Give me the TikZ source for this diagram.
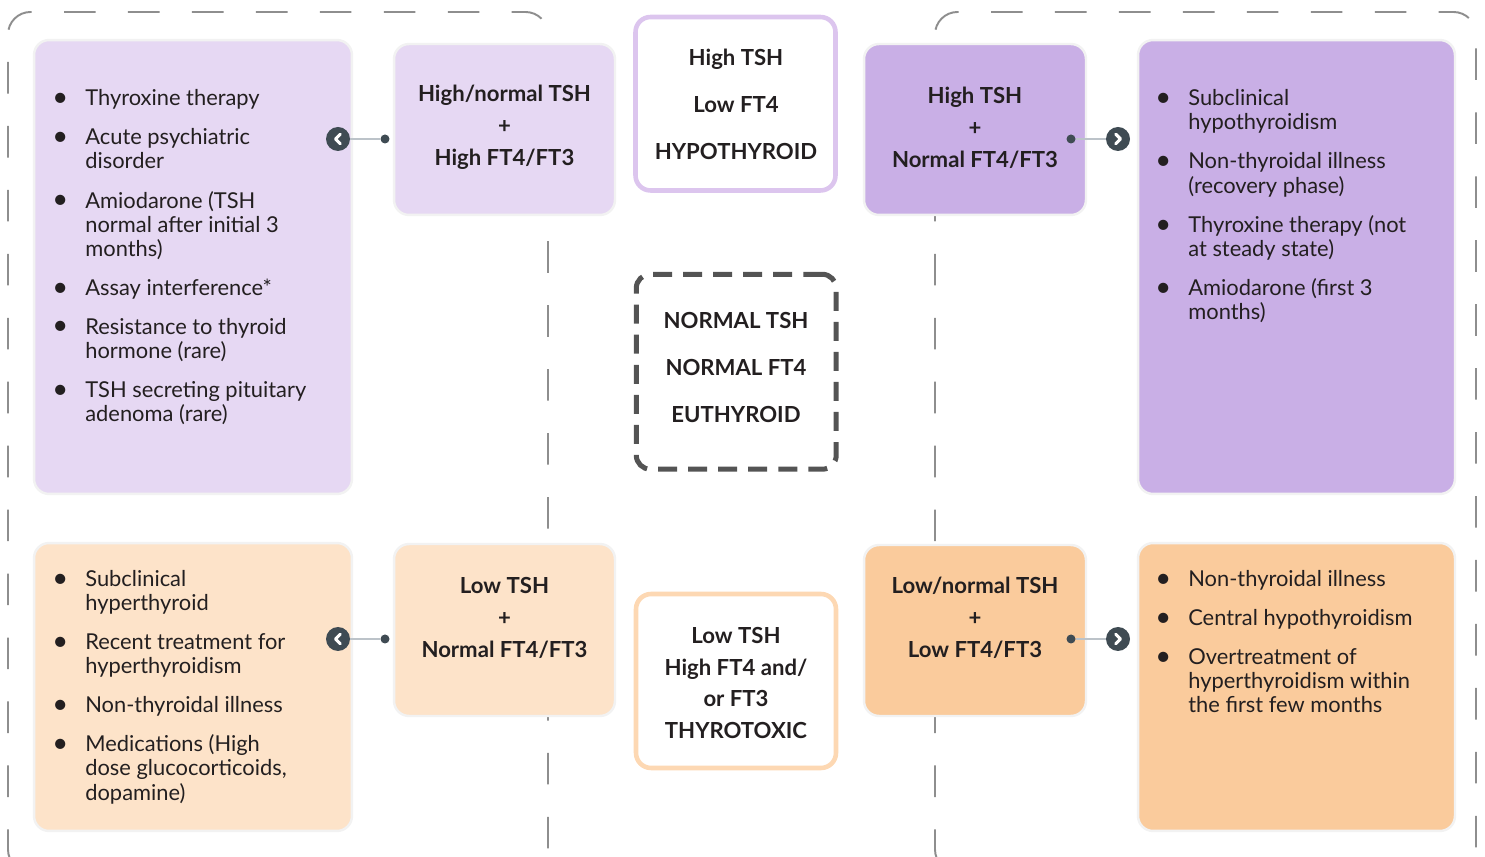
\documentclass[tikz,border=0pt]{standalone}
\usepackage{fontspec}
\setmainfont{Lato}
\usetikzlibrary{positioning}

\definecolor{lilaclight}{HTML}{E6D8F3}
\definecolor{lilacdark}{HTML}{C9AFE6}
\definecolor{lilacrim}{HTML}{DCC5EE}
\definecolor{peachlight}{HTML}{FDE3C9}
\definecolor{peachdark}{HTML}{FACB9C}
\definecolor{peachrim}{HTML}{FDD8B3}
\definecolor{framegray}{HTML}{8E8E8E}
\definecolor{slate}{HTML}{3F4B53}
\definecolor{linkgray}{HTML}{BCC3C9}
\definecolor{ink}{HTML}{231F20}

\newcommand{\bul}{\raisebox{-0.08ex}{\scalebox{1.25}{\textbullet}}}

\tikzset{
  frame/.style={draw=framegray, line width=1.1pt, dash pattern=on 18pt off 18.4pt, dash phase=4pt, rounded corners=0.45cm},
  card/.style={rounded corners=0.3cm, draw=black!5, line width=1.4pt, inner sep=0pt},
  cond/.style={align=center, inner sep=0pt, text=ink, font=\bfseries\fontsize{12.6}{18.2}\selectfont},
  state/.style={rounded corners=0.3cm, fill=white, line width=2.6pt, inner sep=0pt},
  statetext/.style={cond, font=\bfseries\fontsize{12.6}{26.7}\selectfont},
  listtext/.style={anchor=base west, inner sep=0pt, text=ink, font=\fontsize{12.45}{13.66}\selectfont},
  dot/.style={circle, fill=slate, minimum size=0.18cm, inner sep=0pt},
  btn/.style={circle, fill=slate, minimum size=0.48cm, inner sep=0pt},
  btnleft/.style={btn, path picture={
    \draw[white, line width=1.8pt, line cap=round, line join=round]
      ([xshift=0.045cm, yshift=0.095cm]path picture bounding box.center) --
      ([xshift=-0.05cm]path picture bounding box.center) --
      ([xshift=0.045cm, yshift=-0.095cm]path picture bounding box.center);}},
  btnright/.style={btn, path picture={
    \draw[white, line width=1.8pt, line cap=round, line join=round]
      ([xshift=-0.045cm, yshift=0.095cm]path picture bounding box.center) --
      ([xshift=0.05cm]path picture bounding box.center) --
      ([xshift=-0.045cm, yshift=-0.095cm]path picture bounding box.center);}},
  link/.style={draw=linkgray, line width=1pt}
}

\begin{document}
\begin{tikzpicture}[x=0.02cm,y=-0.02cm]
\useasboundingbox (0,0) rectangle (1485,857);

\begin{scope}
  \clip (0,0) rectangle (1485,857);
  \draw[frame] (278,872) -- (8,872) -- (8,12) -- (548,12) -- (548,872) -- cycle;
  \draw[frame] (1205,872) -- (935,872) -- (935,12) -- (1476,12) -- (1476,872) -- cycle;
\end{scope}

% high TSH side
\node[card, fill=lilaclight, minimum width=6.36cm, minimum height=9.08cm] (hi-list) at (193,267) {};
\node[listtext] (hi-items) at (52,106) {\begin{tabular}[t]{@{}p{0.66cm}@{}l@{}}
  \bul & Thyroxine therapy\\[8.5pt]
  \bul & Acute psychiatric\\
       & disorder\\[8.5pt]
  \bul & Amiodarone (TSH\\
       & normal after initial 3\\
       & months)\\[8.5pt]
  \bul & Assay interference*\\[8.5pt]
  \bul & Resistance to thyroid\\
       & hormone (rare)\\[8.5pt]
  \bul & TSH secreting pituitary\\
       & adenoma (rare)
\end{tabular}};
\node[card, fill=lilaclight, minimum width=4.42cm, minimum height=3.42cm] (hi-cond) at (504.5,129.5) {};
\node[cond] (hi-text) at (504.5,127.5) {High/normal TSH\\+\\High FT4/FT3};
\node[btnleft] (hi-btn) at (338,139) {};
\node[dot] (hi-dot) at (385,139) {};
\draw[link] (hi-btn) -- (hi-dot);

\node[card, fill=lilacdark, minimum width=4.44cm, minimum height=3.42cm] (sub-cond) at (975,129.5) {};
\node[cond] (sub-text) at (975,127.5) {High TSH\\+\\Normal FT4/FT3};
\node[card, fill=lilacdark, minimum width=6.34cm, minimum height=9.08cm] (sub-list) at (1296.5,267) {};
\node[listtext] (sub-items) at (1155,106) {\begin{tabular}[t]{@{}p{0.66cm}@{}l@{}}
  \bul & Subclinical\\
       & hypothyroidism\\[8.5pt]
  \bul & Non-thyroidal illness\\
       & (recovery phase)\\[8.5pt]
  \bul & Thyroxine therapy (not\\
       & at steady state)\\[8.5pt]
  \bul & Amiodarone (first 3\\
       & months)
\end{tabular}};
\node[dot] (sub-dot) at (1071,139) {};
\node[btnright] (sub-btn) at (1118,139) {};
\draw[link] (sub-dot) -- (sub-btn);

% thyroid states
\node[state, draw=lilacrim, minimum width=4cm, minimum height=3.47cm] (hypo) at (735.5,103.75) {};
\node[statetext] (hypo-text) at (736,104) {High TSH\\Low FT4\\HYPOTHYROID};
\node[state, draw=black!67, line width=2.85pt, dash pattern=on 10.8pt off 6.3pt, rounded corners=0.28cm, minimum width=4cm, minimum height=3.9cm] (eu) at (736.25,371.75) {};
\node[statetext] (eu-text) at (736,367.5) {NORMAL TSH\\NORMAL FT4\\EUTHYROID};
\node[state, draw=peachrim, minimum width=4cm, minimum height=3.48cm] (toxic) at (736,681) {};
\node[cond] (toxic-text) at (736,683) {Low TSH\\High FT4 and/\\or FT3\\THYROTOXIC};

% low TSH side
\node[card, fill=peachlight, minimum width=6.36cm, minimum height=5.76cm] (lo-list) at (193,687) {};
\node[listtext] (lo-items) at (52,587) {\begin{tabular}[t]{@{}p{0.66cm}@{}l@{}}
  \bul & Subclinical\\
       & hyperthyroid\\[8.5pt]
  \bul & Recent treatment for\\
       & hyperthyroidism\\[8.5pt]
  \bul & Non-thyroidal illness\\[8.5pt]
  \bul & Medications (High\\
       & dose glucocorticoids,\\
       & dopamine)
\end{tabular}};
\node[card, fill=peachlight, minimum width=4.42cm, minimum height=3.44cm] (lo-cond) at (504.5,630) {};
\node[cond] (lo-text) at (504.5,617.5) {Low TSH\\+\\Normal FT4/FT3};
\node[btnleft] (lo-btn) at (338,639) {};
\node[dot] (lo-dot) at (385,639) {};
\draw[link] (lo-btn) -- (lo-dot);

\node[card, fill=peachdark, minimum width=4.44cm, minimum height=3.42cm] (cen-cond) at (975,630.5) {};
\node[cond] (cen-text) at (975,617.5) {Low/normal TSH\\+\\Low FT4/FT3};
\node[card, fill=peachdark, minimum width=6.34cm, minimum height=5.76cm] (cen-list) at (1296.5,687) {};
\node[listtext] (cen-items) at (1155,587) {\begin{tabular}[t]{@{}p{0.66cm}@{}l@{}}
  \bul & Non-thyroidal illness\\[8.5pt]
  \bul & Central hypothyroidism\\[8.5pt]
  \bul & Overtreatment of\\
       & hyperthyroidism within\\
       & the first few months
\end{tabular}};
\node[dot] (cen-dot) at (1071,639) {};
\node[btnright] (cen-btn) at (1118,639) {};
\draw[link] (cen-dot) -- (cen-btn);

\end{tikzpicture}
\end{document}
